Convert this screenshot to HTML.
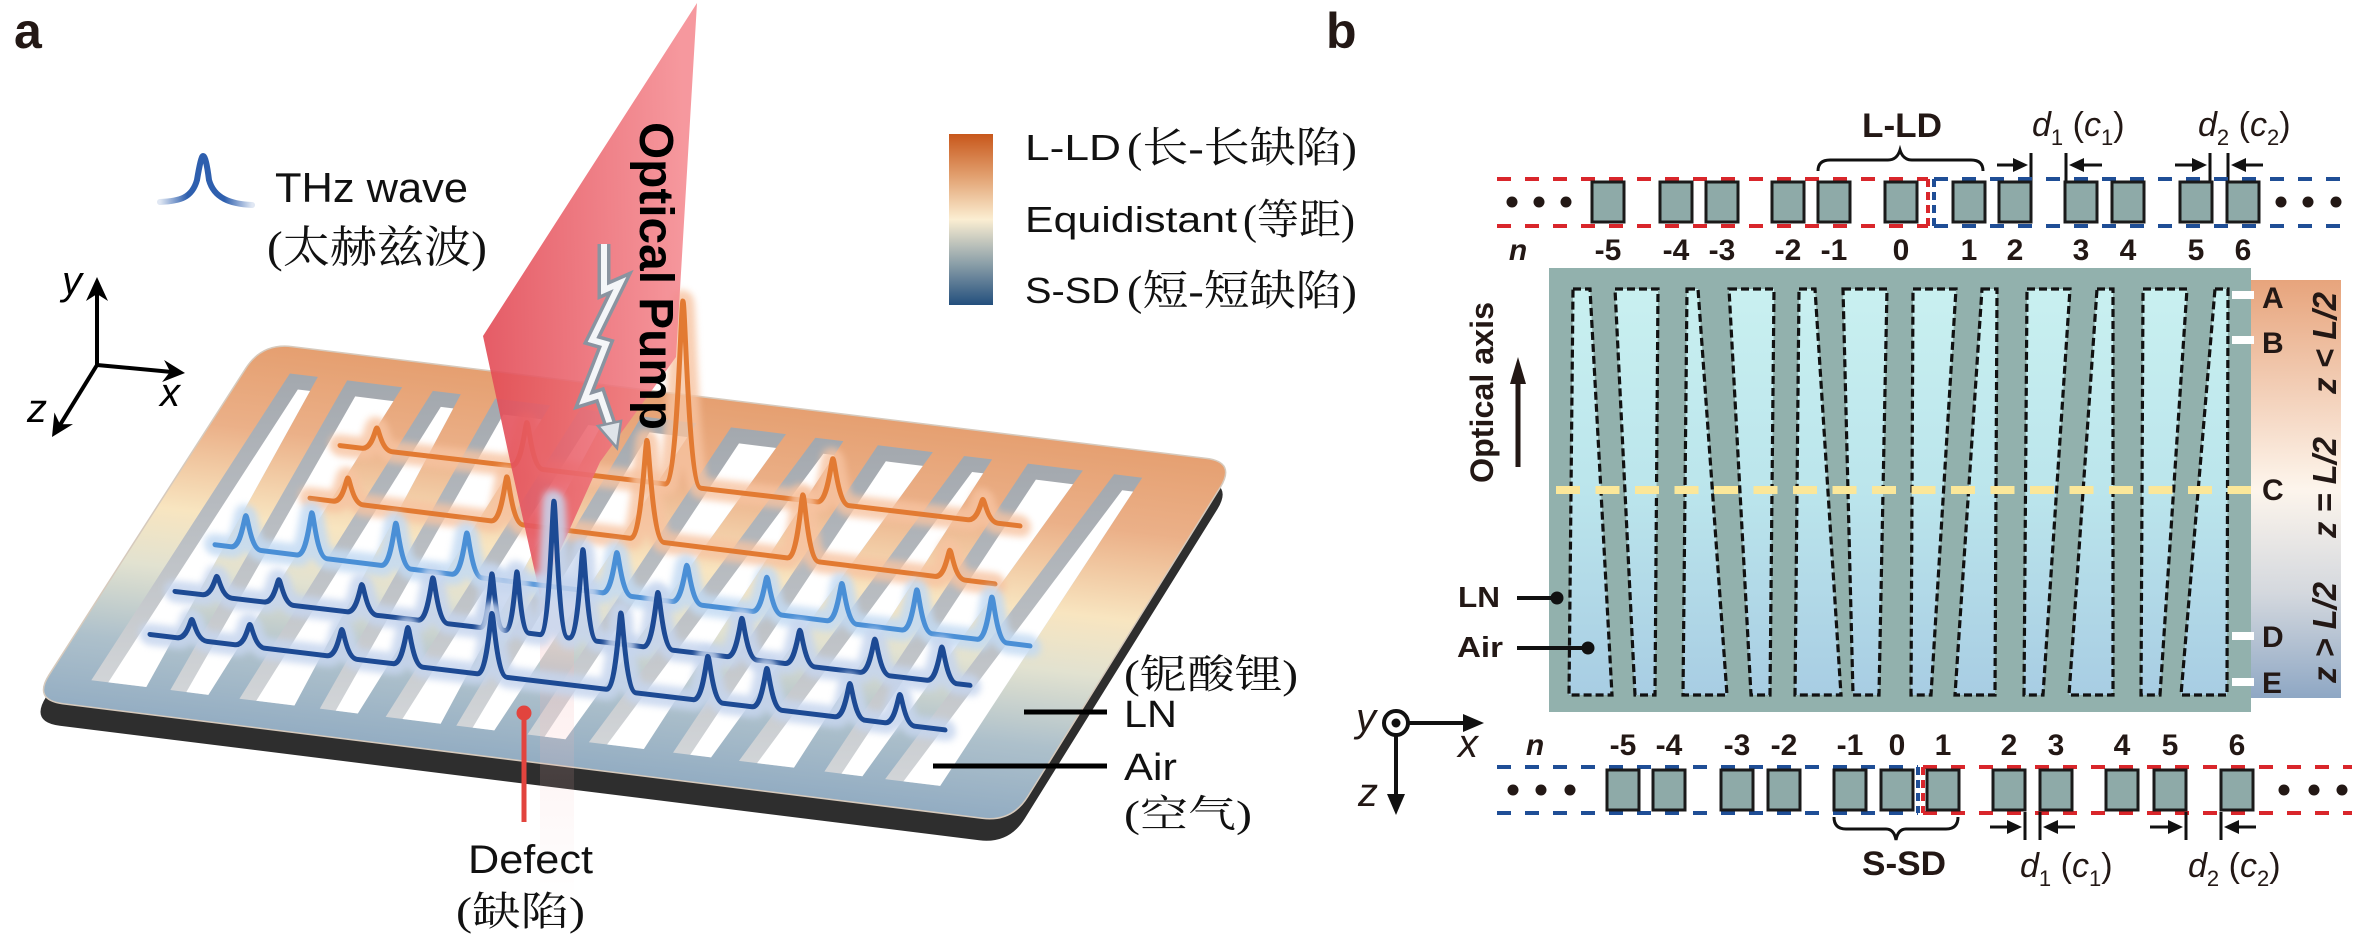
<!DOCTYPE html>
<html><head><meta charset="utf-8">
<style>
html,body{margin:0;padding:0;background:#fff;}
svg{display:block;}
</style></head>
<body>
<svg width="2370" height="936" viewBox="0 0 2370 936" xmlns="http://www.w3.org/2000/svg" font-family="'Liberation Sans', Arial, sans-serif">
<defs>
  <linearGradient id="plateG" gradientUnits="userSpaceOnUse" x1="700" y1="395" x2="655" y2="780">
    <stop offset="0" stop-color="#e59f70"/>
    <stop offset="0.22" stop-color="#ebb088"/>
    <stop offset="0.45" stop-color="#f8e5c0"/>
    <stop offset="0.6" stop-color="#e2e2d0"/>
    <stop offset="0.8" stop-color="#adc0cb"/>
    <stop offset="1" stop-color="#92acc2"/>
  </linearGradient>
  <linearGradient id="wallG" x1="0" y1="0" x2="0" y2="1">
    <stop offset="0" stop-color="#a3a8ae"/>
    <stop offset="1" stop-color="#d2d5d8"/>
  </linearGradient>
  <linearGradient id="cbarA" x1="0" y1="0" x2="0" y2="1">
    <stop offset="0" stop-color="#c8571b"/>
    <stop offset="0.25" stop-color="#e2a171"/>
    <stop offset="0.5" stop-color="#fbeed2"/>
    <stop offset="0.75" stop-color="#8fa2aa"/>
    <stop offset="1" stop-color="#234f7d"/>
  </linearGradient>
  <linearGradient id="cbarB" x1="0" y1="0" x2="0" y2="1">
    <stop offset="0" stop-color="#e7a47c"/>
    <stop offset="0.5" stop-color="#fdf5ec"/>
    <stop offset="0.75" stop-color="#d4d8de"/>
    <stop offset="1" stop-color="#8ea7c4"/>
  </linearGradient>
  <linearGradient id="beamG" gradientUnits="userSpaceOnUse" x1="483" y1="336" x2="690" y2="330">
    <stop offset="0" stop-color="#e24a55"/>
    <stop offset="1" stop-color="#f58d93"/>
  </linearGradient>
  <linearGradient id="pinkFade" x1="0" y1="0" x2="0" y2="1">
    <stop offset="0" stop-color="#f6b5b5" stop-opacity="0.3"/>
    <stop offset="1" stop-color="#f6b5b5" stop-opacity="0"/>
  </linearGradient>
  <linearGradient id="thzG" gradientUnits="userSpaceOnUse" x1="160" y1="0" x2="252" y2="0">
    <stop offset="0" stop-color="#2e5fae" stop-opacity="0.15"/>
    <stop offset="0.3" stop-color="#2e5fae"/>
    <stop offset="0.7" stop-color="#2e5fae"/>
    <stop offset="1" stop-color="#2e5fae" stop-opacity="0.15"/>
  </linearGradient>
  <linearGradient id="airG" x1="0" y1="0" x2="0" y2="1">
    <stop offset="0" stop-color="#c9f0f0"/>
    <stop offset="0.5" stop-color="#bbe5ec"/>
    <stop offset="1" stop-color="#a8cde3"/>
  </linearGradient>
  <filter id="blur" x="-10%" y="-50%" width="120%" height="200%"><feGaussianBlur stdDeviation="3.5"/></filter>

  <clipPath id="c1"><polygon points="289.85,373.45 317.85,376.85 146.3,687.05 91.3,680.25"/></clipPath>
  <clipPath id="c2"><polygon points="347.2,380.4 402.2,387.2 208.35,694.85 170.35,690.05"/></clipPath>
  <clipPath id="c3"><polygon points="432.8,390.9 460.8,394.3 294.45,705.55 239.45,698.75"/></clipPath>
  <clipPath id="c4"><polygon points="495.3,398.55 550.3,405.35 357.8,713.45 319.8,708.65"/></clipPath>
  <clipPath id="c5"><polygon points="580.3,408.95 608.3,412.35 440.65,723.7 385.65,716.9"/></clipPath>
  <clipPath id="c6"><polygon points="641.5,416.4 696.5,423.2 494.3,730.4 456.3,725.6"/></clipPath>
  <clipPath id="c7"><polygon points="731.0,427.35 786.0,434.15 565.45,739.3 527.45,734.5"/></clipPath>
  <clipPath id="c8"><polygon points="815.35,437.7 843.35,441.1 643.85,749.0 588.85,742.2"/></clipPath>
  <clipPath id="c9"><polygon points="877.85,445.3 932.85,452.1 711.05,757.4 673.05,752.6"/></clipPath>
  <clipPath id="c10"><polygon points="964.1,455.95 992.1,459.35 793.95,767.65 738.95,760.85"/></clipPath>
  <clipPath id="c11"><polygon points="1027.9,463.65 1082.9,470.45 862.4,776.25 824.4,771.45"/></clipPath>
  <clipPath id="c12"><polygon points="1114.2,474.3 1142.2,477.7 940.15,785.9 885.15,779.1"/></clipPath>

  <path id="pO1" d="M0,0 L22,0 C32.5,0 35.2,-22 37,-22 C38.8,-22 41.5,0 52,0 L171,0 C182.2,0 185.1,-45 187,-45 C188.9,-45 191.8,0 203,0 L325,0 C337.6,0 340.8,-185 343,-185 C345.2,-185 348.4,0 361,0 L477,0 C488.2,0 491.1,-45 493,-45 C494.9,-45 497.8,0 509,0 L628,0 C638.5,0 641.2,-22 643,-22 C644.8,-22 647.5,0 658,0 L680,0"/>
  <path id="pO2" d="M0,0 L23,0 C33.5,0 36.2,-25 38,-25 C39.8,-25 42.5,0 53,0 L181,0 C192.2,0 195.1,-46 197,-46 C198.9,-46 201.8,0 213,0 L320,0 C331.9,0 335,-100 337,-100 C339,-100 342.1,0 354,0 L477,0 C488.2,0 491.1,-65 493,-65 C494.9,-65 497.8,0 509,0 L625,0 C635.5,0 638.2,-28 640,-28 C641.8,-28 644.5,0 655,0 L685,0"/>
  <path id="pB1" d="M0,0 L16,0 C26.5,0 29.2,-33 31,-33 C32.8,-33 35.5,0 46,0 L82,0 C92.5,0 95.2,-44 97,-44 C98.8,-44 101.5,0 112,0 L166,0 C176.5,0 179.2,-44 181,-44 C182.8,-44 185.5,0 196,0 L237,0 C247.5,0 250.2,-43 252,-43 C253.8,-43 256.5,0 267,0 L387,0 C397.5,0 400.2,-42 402,-42 C403.8,-42 406.5,0 417,0 L457,0 C467.5,0 470.2,-38 472,-38 C473.8,-38 476.5,0 487,0 L537,0 C547.5,0 550.2,-36 552,-36 C553.8,-36 556.5,0 567,0 L612,0 C622.5,0 625.2,-39 627,-39 C628.8,-39 631.5,0 642,0 L687,0 C697.5,0 700.2,-42 702,-42 C703.8,-42 706.5,0 717,0 L762,0 C772.5,0 775.2,-44 777,-44 C778.8,-44 781.5,0 792,0 L815,0"/>
  <path id="pB2" d="M0,0 L27,0 C37.5,0 40.2,-20 42,-20 C43.8,-20 46.5,0 57,0 L89,0 C99.5,0 102.2,-24 104,-24 C105.8,-24 108.5,0 119,0 L172,0 C182.5,0 185.2,-29 187,-29 C188.8,-29 191.5,0 202,0 L243,0 C253.5,0 256.2,-44 258,-44 C259.8,-44 262.5,0 273,0 L305,0 C313.4,0 315.6,-55 317,-55 C318.4,-55 320.6,0 329,0 L330,0 C338.4,0 340.6,-60 342,-60 C343.4,-60 345.6,0 354,0 L365,0 C374.8,0 377.3,-135 379,-135 C380.7,-135 383.2,0 393,0 L394,0 C403.8,0 406.3,-90 408,-90 C409.7,-90 412.2,0 422,0 L468,0 C478.5,0 481.2,-56 483,-56 C484.8,-56 487.5,0 498,0 L552,0 C562.5,0 565.2,-40 567,-40 C568.8,-40 571.5,0 582,0 L610,0 C620.5,0 623.2,-35 625,-35 C626.8,-35 629.5,0 640,0 L685,0 C695.5,0 698.2,-35 700,-35 C701.8,-35 704.5,0 715,0 L752,0 C762.5,0 765.2,-35 767,-35 C768.8,-35 771.5,0 782,0 L795,0"/>
  <path id="pB3" d="M0,0 L27,0 C37.5,0 40.2,-20 42,-20 C43.8,-20 46.5,0 57,0 L85,0 C95.5,0 98.2,-22 100,-22 C101.8,-22 104.5,0 115,0 L177,0 C187.5,0 190.2,-28 192,-28 C193.8,-28 196.5,0 207,0 L243,0 C253.5,0 256.2,-38 258,-38 C259.8,-38 262.5,0 273,0 L327,0 C337.5,0 340.2,-62 342,-62 C343.8,-62 346.5,0 357,0 L456,0 C466.5,0 469.2,-78 471,-78 C472.8,-78 475.5,0 486,0 L543,0 C553.5,0 556.2,-45 558,-45 C559.8,-45 562.5,0 573,0 L602,0 C612.5,0 615.2,-40 617,-40 C618.8,-40 621.5,0 632,0 L685,0 C695.5,0 698.2,-35 700,-35 C701.8,-35 704.5,0 715,0 L735,0 C745.5,0 748.2,-30 750,-30 C751.8,-30 754.5,0 765,0 L795,0"/>
</defs>

<!-- ================= PANEL A ================= -->
<text x="14" y="48" font-size="50" font-weight="bold" fill="#231815">a</text>

<!-- THz icon + label -->
<path d="M160,202 C180,201 192,198 197,180 Q201,156 203,156 Q206,156 209,180 C214,198 230,204 252,205" fill="none" stroke="url(#thzG)" stroke-width="6" stroke-linecap="round"/>
<text x="275" y="202" font-size="42" textLength="193" lengthAdjust="spacingAndGlyphs" fill="#111">THz wave</text>
<text x="267" y="262" font-size="44" font-family="'Liberation Serif','Noto Serif CJK SC',serif" textLength="220" lengthAdjust="spacingAndGlyphs" fill="#111">(太赫兹波)</text>

<!-- axes -->
<g stroke="#000" stroke-width="4" fill="none">
  <line x1="97" y1="365" x2="97" y2="292"/>
  <line x1="97" y1="365" x2="172" y2="372"/>
  <line x1="97" y1="365" x2="60" y2="425"/>
</g>
<g fill="#000">
  <path d="M97,277 L108,301 L97,294 L86,301 Z"/>
  <path d="M185,373 L162.1,382 L170.1,371.6 L164.1,360 Z"/>
  <path d="M52,437 L54.4,412.5 L60,424.3 L73,424.1 Z"/>
</g>
<text x="62" y="294" font-size="40" font-style="italic">y</text>
<text x="160" y="406" font-size="40" font-style="italic">x</text>
<text x="27" y="422" font-size="40" font-style="italic">z</text>

<!-- colorbar legend -->
<rect x="949" y="134" width="44" height="171" fill="url(#cbarA)"/>
<text x="1025" y="160" font-size="36" textLength="96" lengthAdjust="spacingAndGlyphs" fill="#111">L-LD</text>
<text x="1127" y="162" font-size="42" font-family="'Liberation Serif','Noto Serif CJK SC',serif" textLength="230" lengthAdjust="spacingAndGlyphs" fill="#111">(长-长缺陷)</text>
<text x="1025" y="232" font-size="36" textLength="212" lengthAdjust="spacingAndGlyphs" fill="#111">Equidistant</text>
<text x="1243" y="234" font-size="42" font-family="'Liberation Serif','Noto Serif CJK SC',serif" textLength="112" lengthAdjust="spacingAndGlyphs" fill="#111">(等距)</text>
<text x="1025" y="303" font-size="36" textLength="95" lengthAdjust="spacingAndGlyphs" fill="#111">S-SD</text>
<text x="1127" y="305" font-size="42" font-family="'Liberation Serif','Noto Serif CJK SC',serif" textLength="230" lengthAdjust="spacingAndGlyphs" fill="#111">(短-短缺陷)</text>

<!-- plate -->
<path d="M291.8,346.6 L1206.2,458.4 Q1236,462 1220.2,487.5 L1027.8,796.5 Q1012,822 982.2,818.3 L62.8,703.7 Q33,700 49.2,674.7 L245.8,368.3 Q262,343 291.8,346.6 Z" fill="#2e2e2e" transform="translate(-3,22)"/>
<path d="M291.8,346.6 L1206.2,458.4 Q1236,462 1220.2,487.5 L1027.8,796.5 Q1012,822 982.2,818.3 L62.8,703.7 Q33,700 49.2,674.7 L245.8,368.3 Q262,343 291.8,346.6 Z" fill="url(#plateG)" stroke="#d6cabd" stroke-width="1.5"/>

<!-- slots -->
<g fill="url(#wallG)">
  <polygon points="289.85,373.45 317.85,376.85 146.3,687.05 91.3,680.25"/>
  <polygon points="347.2,380.4 402.2,387.2 208.35,694.85 170.35,690.05"/>
  <polygon points="432.8,390.9 460.8,394.3 294.45,705.55 239.45,698.75"/>
  <polygon points="495.3,398.55 550.3,405.35 357.8,713.45 319.8,708.65"/>
  <polygon points="580.3,408.95 608.3,412.35 440.65,723.7 385.65,716.9"/>
  <polygon points="641.5,416.4 696.5,423.2 494.3,730.4 456.3,725.6"/>
  <polygon points="731.0,427.35 786.0,434.15 565.45,739.3 527.45,734.5"/>
  <polygon points="815.35,437.7 843.35,441.1 643.85,749.0 588.85,742.2"/>
  <polygon points="877.85,445.3 932.85,452.1 711.05,757.4 673.05,752.6"/>
  <polygon points="964.1,455.95 992.1,459.35 793.95,767.65 738.95,760.85"/>
  <polygon points="1027.9,463.65 1082.9,470.45 862.4,776.25 824.4,771.45"/>
  <polygon points="1114.2,474.3 1142.2,477.7 940.15,785.9 885.15,779.1"/>
</g>
<g fill="#ffffff">
  <g clip-path="url(#c1)"><polygon transform="translate(8,16)" points="289.85,373.45 317.85,376.85 146.3,687.05 91.3,680.25"/></g>
  <g clip-path="url(#c2)"><polygon transform="translate(8,16)" points="347.2,380.4 402.2,387.2 208.35,694.85 170.35,690.05"/></g>
  <g clip-path="url(#c3)"><polygon transform="translate(8,16)" points="432.8,390.9 460.8,394.3 294.45,705.55 239.45,698.75"/></g>
  <g clip-path="url(#c4)"><polygon transform="translate(8,16)" points="495.3,398.55 550.3,405.35 357.8,713.45 319.8,708.65"/></g>
  <g clip-path="url(#c5)"><polygon transform="translate(8,16)" points="580.3,408.95 608.3,412.35 440.65,723.7 385.65,716.9"/></g>
  <g clip-path="url(#c6)"><polygon transform="translate(8,16)" points="641.5,416.4 696.5,423.2 494.3,730.4 456.3,725.6"/></g>
  <g clip-path="url(#c7)"><polygon transform="translate(8,16)" points="731.0,427.35 786.0,434.15 565.45,739.3 527.45,734.5"/></g>
  <g clip-path="url(#c8)"><polygon transform="translate(8,16)" points="815.35,437.7 843.35,441.1 643.85,749.0 588.85,742.2"/></g>
  <g clip-path="url(#c9)"><polygon transform="translate(8,16)" points="877.85,445.3 932.85,452.1 711.05,757.4 673.05,752.6"/></g>
  <g clip-path="url(#c10)"><polygon transform="translate(8,16)" points="964.1,455.95 992.1,459.35 793.95,767.65 738.95,760.85"/></g>
  <g clip-path="url(#c11)"><polygon transform="translate(8,16)" points="1027.9,463.65 1082.9,470.45 862.4,776.25 824.4,771.45"/></g>
  <g clip-path="url(#c12)"><polygon transform="translate(8,16)" points="1114.2,474.3 1142.2,477.7 940.15,785.9 885.15,779.1"/></g>
</g>

<!-- orange wave rows -->
<g transform="matrix(1 0.118 0 1 340 445.6)" fill="none" stroke-linecap="round" stroke-linejoin="round">
  <use href="#pO1" stroke="#f7c3a0" stroke-width="22" opacity="0.8" filter="url(#blur)"/>
  <use href="#pO1" stroke="#e27a32" stroke-width="5"/>
</g>
<g transform="matrix(1 0.125 0 1 310 498.25)" fill="none" stroke-linecap="round" stroke-linejoin="round">
  <use href="#pO2" stroke="#f7c3a0" stroke-width="22" opacity="0.8" filter="url(#blur)"/>
  <use href="#pO2" stroke="#e27a32" stroke-width="5"/>
</g>

<!-- pump beam -->
<polygon points="697,3 483,336 512,470 540,595 600,462 676,357" fill="url(#beamG)" opacity="0.9"/>
<rect x="540" y="600" width="34" height="305" fill="url(#pinkFade)"/>

<!-- blue wave rows -->
<g transform="matrix(1 0.124 0 1 215 544.8)" fill="none" stroke-linecap="round" stroke-linejoin="round">
  <use href="#pB1" stroke="#c3daf3" stroke-width="22" opacity="0.85" filter="url(#blur)"/>
  <use href="#pB1" stroke="#4a8fd6" stroke-width="5"/>
</g>
<g transform="matrix(1 0.118 0 1 175 591.5)" fill="none" stroke-linecap="round" stroke-linejoin="round">
  <use href="#pB2" stroke="#c6d5ee" stroke-width="22" opacity="0.85" filter="url(#blur)"/>
  <use href="#pB2" stroke="#1d4a94" stroke-width="5"/>
</g>
<g transform="matrix(1 0.12 0 1 150 634.5)" fill="none" stroke-linecap="round" stroke-linejoin="round">
  <use href="#pB3" stroke="#c6d5ee" stroke-width="22" opacity="0.85" filter="url(#blur)"/>
  <use href="#pB3" stroke="#1d4a94" stroke-width="5"/>
</g>

<!-- silver bolt -->
<polyline points="604,244 604,290 620,283 592,340 606,344 584,400 600,395 612,430" fill="none" stroke="#8a94a0" stroke-width="13" stroke-linejoin="miter"/>
<polyline points="604,244 604,290 620,283 592,340 606,344 584,400 600,395 612,430" fill="none" stroke="#f4f6f8" stroke-width="6" stroke-linejoin="miter"/>
<path d="M617,448 L598,426 L621,421 Z" fill="#dfe4ea" stroke="#8a94a0" stroke-width="2.5"/>

<text transform="translate(640,122) rotate(90)" font-size="48" font-weight="bold" textLength="308" lengthAdjust="spacingAndGlyphs" fill="#000">Optical Pump</text>

<!-- defect marker -->
<line x1="524" y1="713" x2="524" y2="822" stroke="#e2443e" stroke-width="5"/>
<circle cx="524" cy="713" r="7.5" fill="#e2443e"/>
<text x="468" y="873" font-size="40" textLength="125" lengthAdjust="spacingAndGlyphs" fill="#111">Defect</text>
<text x="456" y="925" font-size="40" font-family="'Liberation Serif','Noto Serif CJK SC',serif" textLength="129" lengthAdjust="spacingAndGlyphs" fill="#111">(缺陷)</text>

<!-- LN / Air labels -->
<line x1="1024" y1="712" x2="1107" y2="712" stroke="#000" stroke-width="5"/>
<line x1="933" y1="766" x2="1107" y2="766" stroke="#000" stroke-width="5"/>
<text x="1124" y="688" font-size="40" font-family="'Liberation Serif','Noto Serif CJK SC',serif" textLength="174" lengthAdjust="spacingAndGlyphs" fill="#111">(铌酸锂)</text>
<text x="1124" y="727" font-size="38" textLength="53" lengthAdjust="spacingAndGlyphs" fill="#111">LN</text>
<text x="1124" y="780" font-size="38" textLength="53" lengthAdjust="spacingAndGlyphs" fill="#111">Air</text>
<text x="1124" y="827" font-size="38" font-family="'Liberation Serif','Noto Serif CJK SC',serif" textLength="128" lengthAdjust="spacingAndGlyphs" fill="#111">(空气)</text>

<!-- ================= PANEL B ================= -->
<text x="1326" y="48" font-size="50" font-weight="bold" fill="#231815">b</text>

<!-- top row -->
<text x="1862" y="137" font-size="34" font-weight="bold" textLength="80" lengthAdjust="spacingAndGlyphs" fill="#231815">L-LD</text>
<path d="M1818,171 Q1818,160 1830,160 L1888,160 Q1897,160 1900,150 Q1903,160 1912,160 L1971,160 Q1983,160 1983,171" fill="none" stroke="#111" stroke-width="3"/>

<g font-size="34" fill="#231815">
  <text x="2032" y="136"><tspan font-style="italic">d</tspan><tspan font-size="22" dy="9">1</tspan><tspan dy="-9"> (</tspan><tspan font-style="italic">c</tspan><tspan font-size="22" dy="9">1</tspan><tspan dy="-9">)</tspan></text>
  <text x="2198" y="136"><tspan font-style="italic">d</tspan><tspan font-size="22" dy="9">2</tspan><tspan dy="-9"> (</tspan><tspan font-style="italic">c</tspan><tspan font-size="22" dy="9">2</tspan><tspan dy="-9">)</tspan></text>
  <text x="2020" y="877"><tspan font-style="italic">d</tspan><tspan font-size="22" dy="9">1</tspan><tspan dy="-9"> (</tspan><tspan font-style="italic">c</tspan><tspan font-size="22" dy="9">1</tspan><tspan dy="-9">)</tspan></text>
  <text x="2188" y="877"><tspan font-style="italic">d</tspan><tspan font-size="22" dy="9">2</tspan><tspan dy="-9"> (</tspan><tspan font-style="italic">c</tspan><tspan font-size="22" dy="9">2</tspan><tspan dy="-9">)</tspan></text>
</g>

<!-- top gap arrows -->
<g stroke="#111" stroke-width="3">
  <line x1="1997" y1="165" x2="2016" y2="165"/>
  <line x1="2031" y1="153" x2="2031" y2="181"/>
  <line x1="2066" y1="153" x2="2066" y2="181"/>
  <line x1="2102" y1="165" x2="2082" y2="165"/>
  <line x1="2175" y1="165" x2="2195" y2="165"/>
  <line x1="2210" y1="153" x2="2210" y2="181"/>
  <line x1="2228" y1="153" x2="2228" y2="181"/>
  <line x1="2263" y1="165" x2="2243" y2="165"/>
</g>
<g fill="#111">
  <path d="M2028,165 L2013,158 L2013,172 Z"/>
  <path d="M2069,165 L2084,158 L2084,172 Z"/>
  <path d="M2207,165 L2192,158 L2192,172 Z"/>
  <path d="M2231,165 L2246,158 L2246,172 Z"/>
</g>

<!-- top dashed bands -->
<g fill="none" stroke-width="4" stroke-dasharray="14 14">
  <g stroke="#d9262b">
    <line x1="1497" y1="179" x2="1928" y2="179"/>
    <line x1="1497" y1="226" x2="1928" y2="226"/>
  </g>
  <g stroke="#1f4e96">
    <line x1="1934" y1="179" x2="2352" y2="179"/>
    <line x1="1934" y1="226" x2="2352" y2="226"/>
  </g>
</g>
<line x1="1928" y1="179" x2="1928" y2="226" stroke="#d9262b" stroke-width="4" stroke-dasharray="8 5"/>
<line x1="1934" y1="179" x2="1934" y2="226" stroke="#1f4e96" stroke-width="4" stroke-dasharray="8 5"/>

<g fill="#8eaaa8" stroke="#1a1a1a" stroke-width="3">
  <rect x="1592" y="182" width="32" height="40"/>
  <rect x="1660" y="182" width="32" height="40"/>
  <rect x="1706" y="182" width="32" height="40"/>
  <rect x="1772" y="182" width="32" height="40"/>
  <rect x="1818" y="182" width="32" height="40"/>
  <rect x="1885" y="182" width="32" height="40"/>
  <rect x="1953" y="182" width="32" height="40"/>
  <rect x="1999" y="182" width="32" height="40"/>
  <rect x="2065" y="182" width="32" height="40"/>
  <rect x="2112" y="182" width="32" height="40"/>
  <rect x="2180" y="182" width="32" height="40"/>
  <rect x="2227" y="182" width="32" height="40"/>
</g>
<g fill="#231815">
  <circle cx="1512" cy="202" r="5.5"/><circle cx="1539" cy="202" r="5.5"/><circle cx="1566" cy="202" r="5.5"/>
  <circle cx="2281" cy="202" r="5.5"/><circle cx="2308" cy="202" r="5.5"/><circle cx="2336" cy="202" r="5.5"/>
</g>
<g font-size="30" font-weight="bold" fill="#231815" text-anchor="middle">
  <text x="1518" y="260" font-style="italic">n</text>
  <text x="1608" y="260">-5</text><text x="1676" y="260">-4</text><text x="1722" y="260">-3</text>
  <text x="1788" y="260">-2</text><text x="1834" y="260">-1</text><text x="1901" y="260">0</text>
  <text x="1969" y="260">1</text><text x="2015" y="260">2</text><text x="2081" y="260">3</text>
  <text x="2128" y="260">4</text><text x="2196" y="260">5</text><text x="2243" y="260">6</text>
</g>

<!-- microscope image -->
<rect x="1549" y="268" width="702" height="444" fill="#92b1ad"/>
<g fill="url(#airG)" stroke="#111" stroke-width="3.2" stroke-dasharray="8 4">
  <polygon points="1573,289 1590,289 1612,695 1569,695"/>
  <polygon points="1615,289 1658,289 1655,695 1635,695"/>
  <polygon points="1687,289 1698,289 1727,695 1683,695"/>
  <polygon points="1729,289 1774,289 1770,695 1751,695"/>
  <polygon points="1799,289 1815,289 1841,695 1795,695"/>
  <polygon points="1843,289 1887,289 1879,695 1853,695"/>
  <polygon points="1913,289 1956,289 1931,695 1911,695"/>
  <polygon points="1982,289 1997,289 1995,695 1955,695"/>
  <polygon points="2027,289 2070,289 2043,695 2024,695"/>
  <polygon points="2097,289 2113,289 2113,695 2069,695"/>
  <polygon points="2143,289 2187,289 2160,695 2141,695"/>
  <polygon points="2215,289 2228,289 2227,695 2181,695"/>
</g>
<line x1="1556" y1="490" x2="2253" y2="490" stroke="#fbe79a" stroke-width="8" stroke-dasharray="24 15.5"/>

<!-- right color strip -->
<rect x="2251" y="280" width="90" height="418" fill="url(#cbarB)"/>
<g fill="#ffffff">
  <rect x="2232" y="291" width="22" height="8"/>
  <rect x="2232" y="336" width="22" height="8"/>
  <rect x="2232" y="632" width="22" height="8"/>
  <rect x="2232" y="678" width="22" height="8"/>
</g>
<g font-size="30" font-weight="bold" fill="#231815">
  <text x="2262" y="308">A</text>
  <text x="2262" y="353">B</text>
  <text x="2262" y="500">C</text>
  <text x="2262" y="647">D</text>
  <text x="2262" y="693">E</text>
</g>
<g font-size="33" font-weight="bold" font-style="italic" fill="#231815">
  <text transform="translate(2336,394) rotate(-90)" textLength="102" lengthAdjust="spacingAndGlyphs">z &lt; L/2</text>
  <text transform="translate(2336,538) rotate(-90)" textLength="101" lengthAdjust="spacingAndGlyphs">z = L/2</text>
  <text transform="translate(2336,683) rotate(-90)" textLength="101" lengthAdjust="spacingAndGlyphs">z &gt; L/2</text>
</g>

<!-- optical axis -->
<text transform="translate(1493,483) rotate(-90)" font-size="32" font-weight="bold" textLength="181" lengthAdjust="spacingAndGlyphs" fill="#231815">Optical axis</text>
<line x1="1518" y1="467" x2="1518" y2="378" stroke="#231815" stroke-width="5"/>
<path d="M1518,357 L1526,384 L1510,384 Z" fill="#231815"/>

<!-- LN / Air in b -->
<text x="1458" y="607" font-size="29" font-weight="bold" fill="#231815" textLength="42" lengthAdjust="spacingAndGlyphs">LN</text>
<text x="1457" y="657" font-size="29" font-weight="bold" fill="#231815" textLength="46" lengthAdjust="spacingAndGlyphs">Air</text>
<line x1="1517" y1="598" x2="1557" y2="598" stroke="#111" stroke-width="4"/>
<circle cx="1557" cy="598" r="6.5" fill="#111"/>
<line x1="1517" y1="648" x2="1588" y2="648" stroke="#111" stroke-width="4"/>
<circle cx="1588" cy="648" r="6.5" fill="#111"/>

<!-- xyz axes b -->
<circle cx="1396" cy="723" r="12" fill="#fff" stroke="#111" stroke-width="4"/>
<circle cx="1396" cy="723" r="4.5" fill="#111"/>
<line x1="1408" y1="723" x2="1468" y2="723" stroke="#111" stroke-width="4"/>
<path d="M1484,723 L1463,714 L1463,732 Z" fill="#111"/>
<line x1="1396" y1="735" x2="1396" y2="798" stroke="#111" stroke-width="4"/>
<path d="M1396,815 L1387,794 L1405,794 Z" fill="#111"/>
<text x="1356" y="731" font-size="40" font-style="italic" fill="#231815">y</text>
<text x="1458" y="757" font-size="40" font-style="italic" fill="#231815">x</text>
<text x="1358" y="806" font-size="40" font-style="italic" fill="#231815">z</text>

<!-- bottom row -->
<g font-size="30" font-weight="bold" fill="#231815" text-anchor="middle">
  <text x="1535" y="755" font-style="italic">n</text>
  <text x="1623" y="755">-5</text><text x="1669" y="755">-4</text><text x="1737" y="755">-3</text>
  <text x="1784" y="755">-2</text><text x="1850" y="755">-1</text><text x="1897" y="755">0</text>
  <text x="1943" y="755">1</text><text x="2009" y="755">2</text><text x="2056" y="755">3</text>
  <text x="2122" y="755">4</text><text x="2170" y="755">5</text><text x="2237" y="755">6</text>
</g>
<g fill="none" stroke-width="4" stroke-dasharray="14 14">
  <g stroke="#1f4e96">
    <line x1="1497" y1="767" x2="1918" y2="767"/>
    <line x1="1497" y1="813" x2="1918" y2="813"/>
  </g>
  <g stroke="#d9262b">
    <line x1="1923" y1="767" x2="2352" y2="767"/>
    <line x1="1923" y1="813" x2="2352" y2="813"/>
  </g>
</g>
<line x1="1918" y1="767" x2="1918" y2="813" stroke="#1f4e96" stroke-width="4" stroke-dasharray="8 5"/>
<line x1="1923" y1="767" x2="1923" y2="813" stroke="#d9262b" stroke-width="4" stroke-dasharray="8 5"/>
<g fill="#8eaaa8" stroke="#1a1a1a" stroke-width="3">
  <rect x="1607" y="770" width="32" height="40"/>
  <rect x="1653" y="770" width="32" height="40"/>
  <rect x="1721" y="770" width="32" height="40"/>
  <rect x="1768" y="770" width="32" height="40"/>
  <rect x="1834" y="770" width="32" height="40"/>
  <rect x="1881" y="770" width="32" height="40"/>
  <rect x="1927" y="770" width="32" height="40"/>
  <rect x="1993" y="770" width="32" height="40"/>
  <rect x="2040" y="770" width="32" height="40"/>
  <rect x="2106" y="770" width="32" height="40"/>
  <rect x="2154" y="770" width="32" height="40"/>
  <rect x="2221" y="770" width="32" height="40"/>
</g>
<g fill="#231815">
  <circle cx="1513" cy="790" r="5.5"/><circle cx="1541" cy="790" r="5.5"/><circle cx="1570" cy="790" r="5.5"/>
  <circle cx="2284" cy="790" r="5.5"/><circle cx="2314" cy="790" r="5.5"/><circle cx="2342" cy="790" r="5.5"/>
</g>
<path d="M1834,817 Q1834,829 1846,829 L1886,829 Q1894,829 1896,840 Q1898,829 1906,829 L1946,829 Q1958,829 1958,817" fill="none" stroke="#111" stroke-width="3"/>
<text x="1904" y="875" font-size="34" font-weight="bold" text-anchor="middle" textLength="84" lengthAdjust="spacingAndGlyphs" fill="#231815">S-SD</text>

<!-- bottom gap arrows -->
<g stroke="#111" stroke-width="3">
  <line x1="1990" y1="827" x2="2009" y2="827"/>
  <line x1="2025" y1="812" x2="2025" y2="840"/>
  <line x1="2040" y1="812" x2="2040" y2="840"/>
  <line x1="2075" y1="827" x2="2056" y2="827"/>
  <line x1="2150" y1="827" x2="2170" y2="827"/>
  <line x1="2186" y1="812" x2="2186" y2="840"/>
  <line x1="2221" y1="812" x2="2221" y2="840"/>
  <line x1="2256" y1="827" x2="2237" y2="827"/>
</g>
<g fill="#111">
  <path d="M2022,827 L2007,820 L2007,834 Z"/>
  <path d="M2043,827 L2058,820 L2058,834 Z"/>
  <path d="M2183,827 L2168,820 L2168,834 Z"/>
  <path d="M2224,827 L2239,820 L2239,834 Z"/>
</g>
</svg>
</body></html>
